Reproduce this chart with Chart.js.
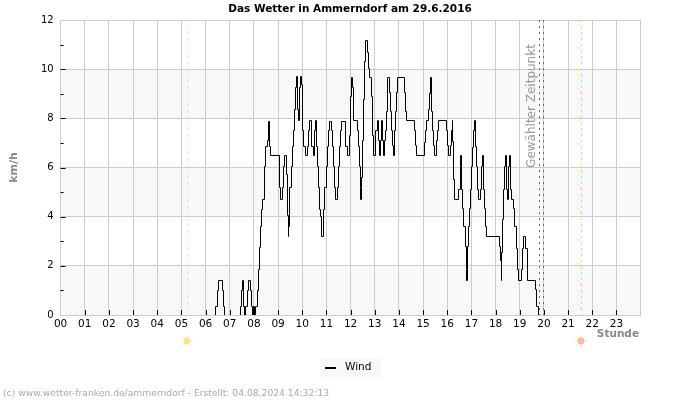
<!DOCTYPE html>
<html>
<head>
<meta charset="utf-8">
<title>Das Wetter in Ammerndorf</title>
<script src="https://cdn.jsdelivr.net/npm/chart.js@4"></script>
<style>
body { margin: 0; background: #fff; }
#wrap { width: 700px; height: 400px; position: relative; }
</style>
</head>
<body>
<div id="wrap"><canvas id="wetterChart" width="700" height="400"></canvas></div>
<script>
const hourLabels = ['00','01','02','03','04','05','06','07','08','09','10','11','12','13','14','15','16','17','18','19','20','21','22','23'];
const yMajorTicks = [0, 2, 4, 6, 8, 10, 12];

// Wind: time (hour) a level starts
const windHours = [
  0, 6.42, 6.43, 6.49, 6.53, 6.71, 6.75, 6.79,
  7.42, 7.43, 7.48, 7.52, 7.55, 7.58, 7.62, 7.66, 7.67, 7.72, 7.77, 7.87, 7.91, 7.95, 7.98, 7.99, 8.02, 8.05,
  8.06, 8.14, 8.20, 8.24, 8.28, 8.32, 8.36, 8.45, 8.49, 8.56, 8.60, 8.64, 8.68,
  9.05, 9.11, 9.18, 9.22, 9.26, 9.34, 9.385, 9.43, 9.45, 9.48, 9.54, 9.58, 9.63, 9.68, 9.72, 9.76, 9.80, 9.84, 9.88, 9.92, 9.95, 9.99,
  10.03, 10.07, 10.12, 10.21, 10.25, 10.30, 10.38, 10.46, 10.50, 10.54, 10.585, 10.63, 10.68, 10.72, 10.76, 10.81, 10.89, 10.93, 10.985,
  11.03, 11.07, 11.11, 11.21, 11.25, 11.29, 11.33, 11.37, 11.45, 11.50, 11.54, 11.58, 11.62, 11.79, 11.87, 11.95, 11.98,
  12.03, 12.06, 12.10, 12.14, 12.28, 12.32, 12.37, 12.41, 12.43, 12.46, 12.49, 12.53, 12.57, 12.63, 12.71, 12.75, 12.79, 12.85, 12.89, 12.96,
  13.03, 13.05, 13.11, 13.16, 13.19, 13.24, 13.28, 13.32, 13.36, 13.40, 13.44, 13.48, 13.52, 13.60, 13.64, 13.69, 13.73, 13.77, 13.81, 13.85, 13.89, 13.93,
  14.22, 14.27, 14.31, 14.64, 14.68, 14.72,
  15.05, 15.09, 15.13, 15.22, 15.26, 15.30, 15.34, 15.38, 15.42, 15.46, 15.55, 15.59, 15.63, 15.96,
  16.00, 16.05, 16.13, 16.17, 16.21, 16.23, 16.25, 16.31, 16.46, 16.53, 16.56, 16.58, 16.63, 16.68, 16.74, 16.78, 16.81, 16.83, 16.87, 16.92, 16.96,
  17.01, 17.05, 17.09, 17.12, 17.16, 17.22, 17.26, 17.30, 17.38, 17.43, 17.45, 17.50, 17.55, 17.59, 17.63,
  18.16, 18.21, 18.24, 18.25, 18.30, 18.34, 18.38, 18.41, 18.45, 18.49, 18.52, 18.57, 18.61, 18.67, 18.76, 18.80, 18.86, 18.90, 18.93,
  19.07, 19.12, 19.16, 19.25, 19.31, 19.33, 19.65, 19.71, 19.76
];
const windKmh = [
  0, 0, 0.33, 1.0, 1.4, 1.0, 0.33, 0,
  0, 0.33, 1.0, 1.4, 1.0, 0.33, 0, 0, 0.33, 1.0, 1.4, 1.0, 0.33, 0, 0, 0.33, 0, 0,
  0.33, 1.0, 1.84, 2.73, 3.6, 4.3, 4.7, 6.05, 6.84, 7.1, 7.88, 6.84, 6.5,
  5.2, 4.7, 5.2, 6.05, 6.5, 5.7, 4.03, 3.2, 3.6, 5.2, 6.05, 6.84, 7.5, 8.35, 9.24, 9.7, 8.35, 7.9, 9.24, 9.7, 9.36, 8.75,
  7.5, 6.84, 6.5, 6.84, 7.5, 7.9, 6.84, 6.5, 7.5, 7.9, 6.84, 6.05, 5.2, 4.3, 4.0, 3.2, 4.3, 5.2, 6.05,
  6.84, 7.5, 7.88, 7.5, 6.84, 6.05, 5.2, 4.7, 5.2, 6.05, 6.84, 7.5, 7.88, 6.84, 6.5, 7.3, 8.9,
  9.68, 9.25, 8.36, 7.9, 7.5, 6.84, 6.05, 5.2, 4.7, 5.6, 7.1, 8.75, 10.3, 11.15, 10.7, 10.05, 9.68, 8.9, 7.3, 6.5,
  7.3, 7.5, 7.9, 7.1, 6.5, 7.1, 7.9, 7.1, 6.5, 7.1, 7.5, 8.3, 9.65, 9.05, 8.3, 7.5, 6.9, 6.5, 7.5, 8.3, 9.05, 9.65,
  9.05, 8.3, 7.9, 7.5, 6.9, 6.5,
  7.0, 7.5, 7.9, 8.35, 9.0, 9.65, 8.3, 7.5, 6.9, 6.5, 7.1, 7.5, 7.9, 7.5,
  6.9, 6.5, 6.9, 7.5, 7.9, 7.05, 5.5, 4.7, 5.1, 6.05, 6.5, 5.1, 4.35, 3.6, 2.8, 1.85, 1.4, 2.8, 3.6, 4.35, 5.1,
  6.05, 6.8, 7.5, 7.9, 6.85, 6.05, 5.1, 4.7, 5.1, 6.05, 6.5, 5.1, 4.35, 3.6, 3.2,
  2.8, 2.2, 1.4, 2.55, 3.9, 5.1, 6.05, 6.5, 5.1, 4.7, 6.05, 6.5, 5.1, 4.7, 4.35, 3.6, 2.7, 1.85, 1.4,
  1.85, 2.7, 3.2, 2.7, 1.85, 1.4, 1.05, 0.33, 0
];

const sunriseHour = 5.24;
const sunsetHour = 21.56;
const selectedHours = [19.83, 20.0];

function drawSun(ctx, x, y, color) {
  ctx.save();
  ctx.strokeStyle = color;
  ctx.fillStyle = color;
  ctx.lineWidth = 1;
  ctx.globalAlpha = 0.6;
  for (let i = 0; i < 8; i++) {
    let a = i * Math.PI / 4;
    ctx.beginPath();
    ctx.moveTo(x + Math.cos(a) * 3, y + Math.sin(a) * 3);
    ctx.lineTo(x + Math.cos(a) * 6, y + Math.sin(a) * 6);
    ctx.stroke();
  }
  ctx.globalAlpha = 1;
  ctx.beginPath();
  ctx.arc(x, y, 3.4, 0, Math.PI * 2);
  ctx.fill();
  ctx.restore();
}

const wetterPlugin = {
  id: 'wetter',
  // Punkte auf ganze Pixel legen, damit die Stufen scharf bleiben
  afterDatasetsUpdate(chart) {
    chart.getDatasetMeta(0).data.forEach(p => {
      p.x = Math.floor(p.x) + 0.5;
      p.y = Math.floor(p.y) + 0.5;
    });
  },
  beforeDraw(chart) {
    const { ctx, chartArea: a, scales: { y } } = chart;
    ctx.save();
    // graue Baender
    ctx.fillStyle = '#f8f8f8';
    for (let v = 0; v < 12; v += 4) {
      ctx.fillRect(a.left, y.getPixelForValue(v + 2), a.right - a.left, y.getPixelForValue(v) - y.getPixelForValue(v + 2));
    }
    ctx.restore();
  },
  afterDatasetsDraw(chart) {
    const { ctx, chartArea: a, scales: { x, y } } = chart;
    ctx.save();
    ctx.strokeStyle = '#000';
    ctx.lineWidth = 1;
    ctx.beginPath();
    for (let v = 1; v < 12; v++) {
      let py = Math.round(y.getPixelForValue(v)) + 0.5;
      ctx.moveTo(a.left, py);
      ctx.lineTo(a.left + (v % 2 ? 3 : 5), py);
    }
    for (let h = 1; h < 24; h++) {
      let px = Math.round(x.getPixelForValue(h)) + 0.5;
      ctx.moveTo(px, a.bottom);
      ctx.lineTo(px, a.bottom - 5);
    }
    ctx.stroke();

    // Sonnenaufgang / -untergang
    ctx.setLineDash([2, 4]);
    ctx.strokeStyle = '#f5e88a';
    let rx = Math.floor(x.getPixelForValue(sunriseHour)) + 0.5;
    ctx.beginPath(); ctx.moveTo(rx, a.top); ctx.lineTo(rx, a.bottom); ctx.stroke();
    ctx.strokeStyle = '#f0c878';
    let sx = Math.floor(x.getPixelForValue(sunsetHour)) + 0.5;
    ctx.beginPath(); ctx.moveTo(sx, a.top); ctx.lineTo(sx, a.bottom); ctx.stroke();

    // gewaehlter Zeitpunkt
    ctx.setLineDash([2, 4]);
    ctx.strokeStyle = '#666';
    selectedHours.forEach(h => {
      let px = Math.floor(x.getPixelForValue(h)) + 0.5;
      ctx.beginPath(); ctx.moveTo(px, a.top); ctx.lineTo(px, a.bottom); ctx.stroke();
    });
    ctx.setLineDash([]);

    drawSun(ctx, rx - 0.5, 341, '#fde39a');
    drawSun(ctx, sx - 0.5, 341, '#fdb8a0');

    ctx.textBaseline = 'middle';
    ctx.save();
    ctx.translate(532, 106);
    ctx.rotate(-Math.PI / 2);
    ctx.font = '12px "DejaVu Sans"';
    ctx.fillStyle = '#999';
    ctx.textAlign = 'center';
    ctx.fillText('Gewählter Zeitpunkt', 0, 0);
    ctx.restore();

    ctx.font = 'bold 10.5px "DejaVu Sans"';
    ctx.fillStyle = '#888';
    ctx.textAlign = 'right';
    ctx.fillText('Stunde', 639, 334);

    // Legende
    ctx.fillStyle = '#f8f8f8';
    ctx.fillRect(320, 358, 61, 19);
    ctx.fillStyle = '#000';
    ctx.fillRect(325, 367, 11, 2);
    ctx.font = '10.5px "DejaVu Sans"';
    ctx.textAlign = 'left';
    ctx.fillText(chart.data.datasets[0].label, 345, 367);

    ctx.font = '9.2px "DejaVu Sans"';
    ctx.fillStyle = '#aaa';
    ctx.fillText('(c) www.wetter-franken.de/ammerndorf - Erstellt: 04.08.2024 14:32:13', 3, 393.5);
    ctx.restore();
  }
};

const points = windHours.map((h, i) => ({ x: h, y: windKmh[i] }));

new Chart(document.getElementById('wetterChart'), {
  type: 'line',
  data: {
    datasets: [{
      label: 'Wind',
      data: points,
      borderColor: '#000',
      backgroundColor: '#000',
      borderWidth: 1,
      pointRadius: 0,
      stepped: true,
      segment: {
        // auf der Nulllinie nichts zeichnen
        borderColor: c => (c.p0.parsed.y === 0 && c.p1.parsed.y === 0) ? 'transparent' : '#000'
      }
    }]
  },
  options: {
    responsive: false,
    animation: false,
    events: [],
    plugins: {
      title: {
        display: true,
        text: 'Das Wetter in Ammerndorf am 29.6.2016',
        color: '#000',
        font: { family: 'DejaVu Sans', size: 10.5, weight: 'bold' },
        padding: { top: 3, bottom: 4.5 }
      },
      legend: { display: false },
      tooltip: { enabled: false }
    },
    scales: {
      x: {
        type: 'linear',
        min: 0,
        max: 24,
        afterFit: s => { s.height = 85; },
        grid: { color: '#ccc', lineWidth: 1, drawTicks: false },
        border: { color: '#ccc' },
        ticks: {
          stepSize: 1,
          autoSkip: false,
          maxRotation: 0,
          padding: 3,
          color: '#000',
          font: { family: 'DejaVu Sans', size: 10.5 },
          callback: v => hourLabels[v] || ''
        }
      },
      y: {
        min: 0,
        max: 12,
        afterFit: s => { s.width = 60.6; },
        title: {
          display: true,
          text: 'km/h',
          color: '#888',
          font: { family: 'DejaVu Sans', size: 11, weight: 'bold' },
          padding: { top: 8, bottom: 8 }
        },
        grid: { color: '#ccc', lineWidth: 1, drawTicks: false },
        border: { color: '#ccc' },
        ticks: {
          stepSize: 2,
          padding: 7,
          color: '#000',
          font: { family: 'DejaVu Sans', size: 10 },
          callback: v => yMajorTicks.includes(v) ? v : ''
        }
      },
      // leere Achse rechts, haelt den Rand frei
      rand: {
        position: 'right',
        afterFit: s => { s.width = 59.4; },
        grid: { display: false },
        border: { display: false },
        ticks: { display: false }
      }
    }
  },
  plugins: [wetterPlugin]
});
</script>
</body>
</html>
